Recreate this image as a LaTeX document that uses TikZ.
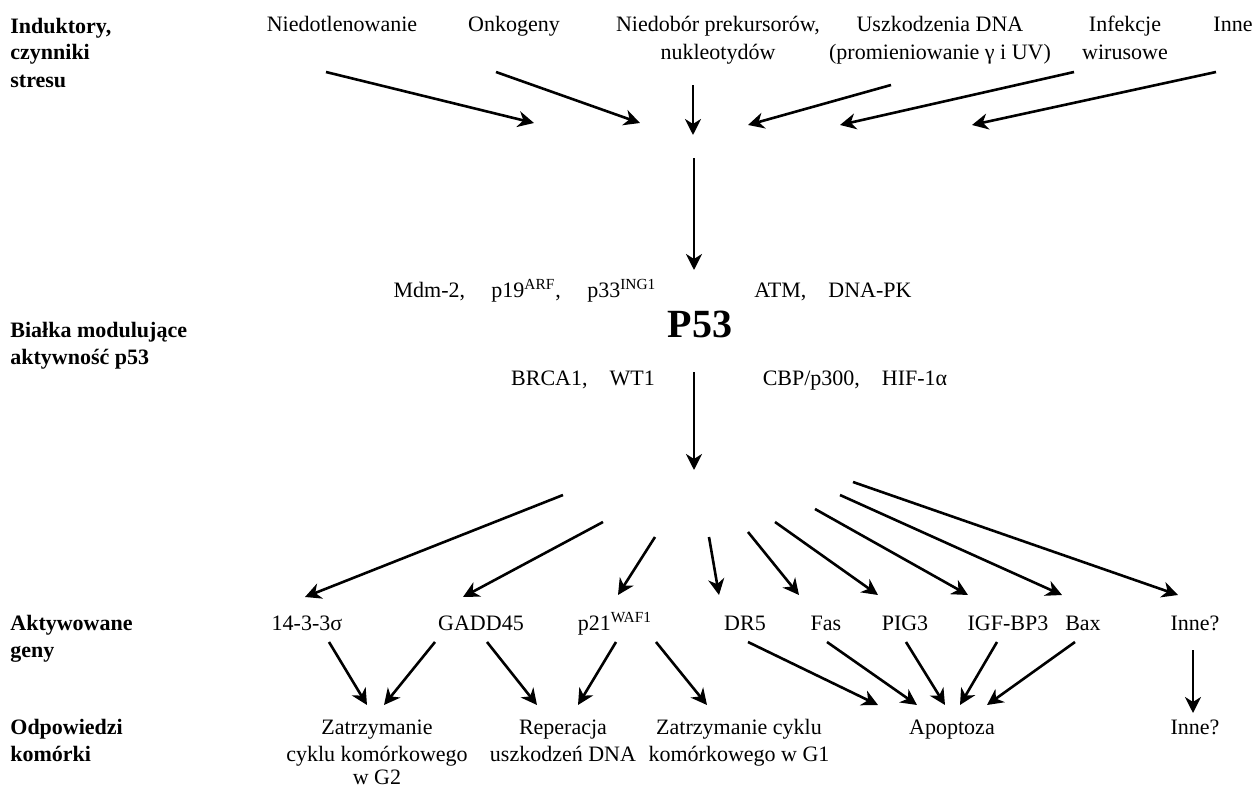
\documentclass[tikz,border=0pt]{standalone}
\usepackage{fontspec}
\setmainfont{Liberation Serif}
\usetikzlibrary{arrows.meta}
\tikzset{
  lbl/.style={anchor=base,inner sep=0pt,align=center,font=\fontsize{11}{13.5}\selectfont},
  head/.style={anchor=base west,inner sep=0pt,align=left,font=\fontsize{11}{13.5}\selectfont\bfseries},
  arr/.style={line width=1.3pt,-{Stealth[length=8pt,width=8pt,inset=2.5pt]}}
}

\begin{document}
\begin{tikzpicture}[x=0.5pt,y=-0.5pt]
	%%%%% START %%%%%
	\useasboundingbox (0,0) rectangle (1255,787);

	% row titles (base = last line)
	\node[head] (hInd) at (10,87) {Induktory,\\czynniki\\stresu};
	\node[head] (hBia) at (10,364) {Białka modulujące\\aktywność p53};
	\node[head] (hAkt) at (10,657) {Aktywowane\\geny};
	\node[head] (hOdp) at (10,761) {Odpowiedzi\\komórki};

	% inductors
	\node[lbl] (niedotl) at (342,32) {Niedotlenowanie};
	\node[lbl] (onko) at (514,32) {Onkogeny};
	\node[lbl] (niedob) at (718,59) {Niedobór prekursorów,\\nukleotydów};
	\node[lbl] (uszk) at (940,59) {Uszkodzenia DNA\\(promieniowanie γ i UV)};
	\node[lbl] (infek) at (1125,59) {Infekcje\\wirusowe};
	\node[lbl] (inneA) at (1233,32) {Inne};

	\coordinate (s1) at (326,72);  \coordinate (e1) at (534,123);
	\coordinate (s2) at (496,72);  \coordinate (e2) at (640,123);
	\coordinate (s3) at (693,85);  \coordinate (e3) at (693,135);
	\coordinate (s4) at (891,85);  \coordinate (e4) at (748,125);
	\coordinate (s5) at (1074,72); \coordinate (e5) at (840,125);
	\coordinate (s6) at (1216,72); \coordinate (e6) at (972,125);
	\draw[arr] (s1) -- (e1);
	\draw[arr] (s2) -- (e2);
	\draw[arr] (s3) -- (e3);
	\draw[arr] (s4) -- (e4);
	\draw[arr] (s5) -- (e5);
	\draw[arr] (s6) -- (e6);

	% p53 and its modulators
	\coordinate (pin) at (694,158); \coordinate (ptop) at (694,270);
	\draw[arr] (pin) -- (ptop);
	\node[lbl] (mdm) at (525,297) {Mdm-2,\hspace{1.2em}p19\textsuperscript{ARF},\hspace{1.2em}p33\textsuperscript{ING1}};
	\node[lbl] (atm) at (833,297) {ATM,\quad DNA-PK};
	\node[lbl,font=\fontsize{20}{24}\selectfont\bfseries] (p53) at (700,337) {P53};
	\node[lbl] (brca) at (583,385) {BRCA1,\quad WT1};
	\node[lbl] (cbp) at (855,385) {CBP/p300,\quad HIF-1α};
	\coordinate (pbot) at (694,372); \coordinate (pout) at (694,470);
	\draw[arr] (pbot) -- (pout);

	% activated genes
	\node[lbl] (g1) at (307,630) {14-3-3σ};
	\node[lbl] (g2) at (481,630) {GADD45};
	\node[lbl] (g3) at (615,630) {p21\textsuperscript{WAF1}};
	\node[lbl] (g4) at (745,630) {DR5};
	\node[lbl] (g5) at (826,630) {Fas};
	\node[lbl] (g6) at (905,630) {PIG3};
	\node[lbl] (g7) at (1008,630) {IGF-BP3};
	\node[lbl] (g8) at (1083,630) {Bax};
	\node[lbl] (g9) at (1195,630) {Inne?};

	\coordinate (f1) at (563,495); \coordinate (t1) at (305,597);
	\coordinate (f2) at (603,522); \coordinate (t2) at (463,597);
	\coordinate (f3) at (655,537); \coordinate (t3) at (618,595);
	\coordinate (f4) at (709,537); \coordinate (t4) at (719,595);
	\coordinate (f5) at (748,532); \coordinate (t5) at (799,595);
	\coordinate (f6) at (775,522); \coordinate (t6) at (878,595);
	\coordinate (f7) at (815,509); \coordinate (t7) at (968,595);
	\coordinate (f8) at (840,495); \coordinate (t8) at (1062,595);
	\coordinate (f9) at (853,482); \coordinate (t9) at (1178,595);
	\draw[arr] (f1) -- (t1);
	\draw[arr] (f2) -- (t2);
	\draw[arr] (f3) -- (t3);
	\draw[arr] (f4) -- (t4);
	\draw[arr] (f5) -- (t5);
	\draw[arr] (f6) -- (t6);
	\draw[arr] (f7) -- (t7);
	\draw[arr] (f8) -- (t8);
	\draw[arr] (f9) -- (t9);

	% cell responses (base = last line)
	\node[lbl] (r1) at (377,784) {Zatrzymanie\\cyklu komórkowego\\[-2pt]w G2};
	\node[lbl] (r2) at (563,761) {Reperacja\\uszkodzeń DNA};
	\node[lbl] (r3) at (739,761) {Zatrzymanie cyklu\\komórkowego w G1};
	\node[lbl] (r4) at (952,734) {Apoptoza};
	\node[lbl] (r5) at (1195,734) {Inne?};

	\coordinate (u1) at (329,642);  \coordinate (v1) at (367,705);
	\coordinate (u2) at (435,642);  \coordinate (v2) at (384,705);
	\coordinate (u3) at (487,642);  \coordinate (v3) at (537,705);
	\coordinate (u4) at (616,642);  \coordinate (v4) at (578,705);
	\coordinate (u5) at (656,642);  \coordinate (v5) at (707,705);
	\coordinate (u6) at (748,642);  \coordinate (v6) at (878,705);
	\coordinate (u7) at (827,642);  \coordinate (v7) at (917,705);
	\coordinate (u8) at (906,642);  \coordinate (v8) at (945,705);
	\coordinate (u9) at (997,642);  \coordinate (v9) at (960,705);
	\coordinate (u10) at (1075,642); \coordinate (v10) at (987,705);
	\coordinate (u11) at (1193,650); \coordinate (v11) at (1193,713);
	\draw[arr] (u1) -- (v1);
	\draw[arr] (u2) -- (v2);
	\draw[arr] (u3) -- (v3);
	\draw[arr] (u4) -- (v4);
	\draw[arr] (u5) -- (v5);
	\draw[arr] (u6) -- (v6);
	\draw[arr] (u7) -- (v7);
	\draw[arr] (u8) -- (v8);
	\draw[arr] (u9) -- (v9);
	\draw[arr] (u10) -- (v10);
	\draw[arr] (u11) -- (v11);

	%%%%% END %%%%%
\end{tikzpicture}
\end{document}
